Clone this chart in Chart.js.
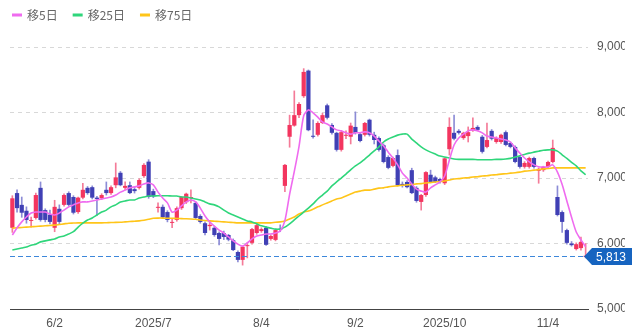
<!DOCTYPE html>
<html>
<head>
<meta charset="utf-8">
<script src="https://cdn.jsdelivr.net/npm/chart.js@4/dist/chart.umd.min.js"></script>
<style>
  html, body { margin: 0; padding: 0; background: #fff; }
  canvas { display: block; }
</style>
</head>
<body>
<canvas id="chart" width="642" height="335"></canvas>
<script>
// trading days shown on the chart
const dates = [
  '5/20','5/21','5/22','5/23','5/26','5/27','5/28','5/29','5/30',
  '6/2','6/3','6/4','6/5','6/6','6/9','6/10','6/11','6/12','6/13','6/16','6/17','6/18','6/19','6/20','6/23','6/24','6/25','6/26','6/27','6/30',
  '7/1','7/2','7/3','7/4','7/7','7/8','7/9','7/10','7/11','7/14','7/15','7/16','7/17','7/18','7/22','7/23','7/24','7/25','7/28','7/29','7/30','7/31','8/1',
  '8/4','8/5','8/6','8/7','8/8','8/12','8/13','8/14','8/15','8/18','8/19','8/20','8/21','8/22','8/25','8/26','8/27','8/28','8/29','9/1',
  '9/2','9/3','9/4','9/5','9/8','9/9','9/10','9/11','9/12','9/16','9/17','9/18','9/19','9/22','9/24','9/25','9/26','9/29','9/30',
  '10/1','10/2','10/3','10/6','10/7','10/8','10/9','10/10','10/14','10/15','10/16','10/17','10/20','10/21','10/22','10/23','10/24','10/27','10/28','10/29','10/30','10/31',
  '11/4','11/5','11/6','11/7','11/10','11/11','11/12','11/13','11/14'
]

const opens = [
  6240, 6770, 6590, 6500, 6345, 6390, 6850, 6510, 6440, 6240,
  6530, 6590, 6770, 6710, 6480, 6700, 6850, 6860, 6700, 6690,
  6820, 6770, 6890, 7080, 6850, 6890, 6830, 6850, 7030, 7250,
  6800, 6545, 6560, 6480, 6315, 6360, 6540, 6630, 6695, 6620,
  6420, 6310, 6265, 6240, 6160, 6160, 6130, 6050, 5870, 5750,
  5960, 6010, 6160, 6190, 6240, 6070, 6055, 6225, 6880, 7630,
  7800, 7960, 8250, 8640, 7645, 7660, 7840, 8110, 7810, 7690,
  7430, 7645, 7630, 7780, 7670, 7660, 7890, 7660, 7610, 7500,
  7320, 7185, 7350, 6910, 6940, 7120, 6850, 6635, 6740, 7050,
  7010, 6985, 6920, 7440, 7690, 7720, 7610, 7640, 7730, 7780,
  7630, 7475, 7720, 7550, 7550, 7700, 7535, 7475, 7320, 7170,
  7170, 7305, 7110, 7120, 7170, 7245, 6710, 6480, 6205, 6000,
  5915, 5930, 5795
]
const highs = [
  6730, 6820, 6710, 6560, 6405, 6770, 6940, 6530, 6510, 6660,
  6590, 6760, 6790, 6730, 6710, 6920, 6870, 6880, 6720, 6760,
  6940, 6880, 7230, 7100, 6940, 6940, 6860, 6990, 7220, 7280,
  6830, 6620, 6590, 6500, 6370, 6560, 6720, 6770, 6820, 6640,
  6440, 6330, 6345, 6260, 6180, 6190, 6140, 6070, 5890, 5960,
  6010, 6230, 6300, 6240, 6260, 6130, 6220, 6285, 7210, 7960,
  8330, 8150, 8670, 8650, 7890, 7860, 7990, 8130, 7830, 7700,
  7720, 7720, 7840, 8010, 7690, 7850, 7900, 7700, 7630, 7520,
  7340, 7320, 7430, 6940, 6960, 7150, 6870, 6750, 7100, 7120,
  7030, 7000, 7310, 7920, 7960, 7740, 7700, 7780, 7920, 7800,
  7650, 7840, 7740, 7630, 7670, 7720, 7550, 7490, 7340, 7250,
  7320, 7320, 7150, 7180, 7260, 7580, 6880, 6500, 6220, 6030,
  6010, 6100, 6000
]
const lows = [
  6170, 6480, 6400, 6310, 6250, 6370, 6340, 6330, 6300, 6180,
  6300, 6570, 6570, 6450, 6460, 6680, 6750, 6680, 6430, 6670,
  6740, 6750, 6850, 6880, 6820, 6760, 6770, 6830, 7010, 6690,
  6700, 6480, 6390, 6330, 6240, 6340, 6520, 6610, 6620, 6380,
  6310, 6130, 6205, 6110, 5980, 6060, 6040, 5890, 5720, 5670,
  5780, 5990, 6140, 6170, 5970, 6050, 6040, 6180, 6790, 7470,
  7790, 7920, 8230, 7720, 7610, 7640, 7830, 7900, 7670, 7410,
  7410, 7600, 7520, 7670, 7550, 7640, 7640, 7520, 7410, 7230,
  7140, 7170, 6880, 6860, 6850, 6760, 6630, 6510, 6720, 6930,
  6930, 6920, 6900, 7350, 7580, 7670, 7590, 7550, 7710, 7720,
  7380, 7460, 7580, 7530, 7530, 7490, 7460, 7230, 7150, 7150,
  7150, 7150, 6920, 7100, 7150, 7230, 6420, 6170, 5990, 5960,
  5900, 5900, 5780
]
const closes = [
  6690, 6540, 6470, 6360, 6360, 6740, 6360, 6360, 6330, 6560,
  6330, 6740, 6590, 6470, 6700, 6820, 6770, 6700, 6680, 6740,
  6770, 6860, 7010, 6890, 6880, 6770, 6800, 6970, 7200, 6710,
  6720, 6560, 6400, 6360, 6330, 6540, 6710, 6760, 6710, 6390,
  6330, 6160, 6285, 6130, 6070, 6100, 6060, 5900, 5750, 5950,
  5975, 6220, 6280, 6220, 5980, 6115, 6205, 6210, 7200, 7810,
  7960, 8130, 8620, 7730, 7630, 7840, 7960, 7920, 7690, 7430,
  7700, 7660, 7800, 7690, 7565, 7840, 7660, 7580, 7430, 7245,
  7155, 7305, 6890, 6880, 6860, 6770, 6650, 6740, 7090, 6940,
  6940, 6940, 7300, 7780, 7600, 7690, 7690, 7700, 7765, 7735,
  7400, 7580, 7600, 7610, 7660, 7505, 7475, 7245, 7170, 7230,
  7305, 7170, 7140, 7170, 7245, 7460, 6435, 6330, 6010, 5975,
  5990, 6025, 5813
]

// moving averages
const ma5 = [
  6130, 6240, 6330, 6405, 6465, 6480, 6480, 6480, 6450, 6435,
  6465, 6510, 6560, 6590, 6620, 6635, 6635, 6650, 6665, 6680,
  6695, 6710, 6740, 6785, 6815, 6850, 6865, 6880, 6910, 6925,
  6895, 6785, 6695, 6620, 6480, 6510, 6575, 6635, 6665, 6635,
  6540, 6420, 6330, 6265, 6205, 6160, 6100, 6040, 5990, 5960,
  6010, 6070, 6115, 6130, 6145, 6145, 6160, 6190, 6350, 6750,
  7100, 7480, 7950, 8040, 7995, 7930, 7855, 7825, 7780, 7735,
  7720, 7690, 7670, 7690, 7690, 7705, 7690, 7640, 7565, 7490,
  7395, 7305, 7200, 7075, 7000, 6910, 6830, 6800, 6785, 6850,
  6895, 6940, 7030, 7275, 7505, 7610, 7670, 7720, 7735, 7720,
  7690, 7640, 7625, 7610, 7595, 7580, 7550, 7460, 7380, 7305,
  7245, 7200, 7170, 7170, 7170, 7200, 7090, 6900, 6650, 6400,
  6175, 6055, 5950
]
const ma25 = [
  5900, 5915, 5930, 5945, 5975, 5990, 6025, 6040, 6055, 6070,
  6100, 6115, 6145, 6180, 6250, 6310, 6360, 6390, 6435, 6480,
  6510, 6560, 6590, 6635, 6650, 6665, 6665, 6695, 6710, 6725,
  6725, 6730, 6730, 6730, 6725, 6725, 6710, 6710, 6695, 6680,
  6665, 6635, 6605, 6590, 6560, 6510, 6465, 6435, 6405, 6375,
  6345, 6330, 6300, 6270, 6250, 6235, 6220, 6220, 6250, 6300,
  6360, 6420, 6480, 6540, 6605, 6680, 6740, 6800, 6880, 6940,
  7000, 7060, 7125, 7185, 7230, 7290, 7350, 7415, 7475, 7550,
  7595, 7625, 7655, 7670, 7670, 7595, 7535, 7475, 7430, 7395,
  7365, 7335, 7320, 7305, 7290, 7285, 7285, 7285, 7285, 7280,
  7280, 7280, 7280, 7285, 7285, 7290, 7300, 7320, 7340, 7360,
  7380, 7395, 7410, 7425, 7430, 7430, 7410, 7355, 7300, 7240,
  7185, 7110, 7050
]
const ma75 = [
  6235, 6240, 6245, 6250, 6255, 6260, 6265, 6270, 6275, 6280,
  6290, 6300, 6310, 6312, 6315, 6315, 6315, 6315, 6315, 6315,
  6318, 6320, 6322, 6325, 6330, 6335, 6340, 6345, 6355, 6370,
  6385, 6388, 6388, 6385, 6385, 6382, 6380, 6378, 6375, 6370,
  6360, 6352, 6345, 6340, 6335, 6330, 6325, 6320, 6315, 6315,
  6315, 6315, 6315, 6315, 6315, 6315, 6325, 6330, 6345, 6375,
  6405, 6450, 6480, 6495, 6525, 6560, 6590, 6620, 6650, 6680,
  6695, 6725, 6755, 6785, 6800, 6815, 6815, 6830, 6845, 6850,
  6865, 6875, 6880, 6890, 6895, 6900, 6910, 6915, 6925, 6930,
  6940, 6945, 6955, 6970, 6985, 6990, 7000, 7005, 7015, 7020,
  7030, 7035, 7045, 7050, 7060, 7065, 7075, 7080, 7090, 7105,
  7110, 7120, 7125, 7140, 7145, 7155, 7155, 7155, 7155, 7155,
  7155, 7155, 7155
]

// axis labels
const tickDates = ['6/2', '7/1', '8/4', '9/2', '10/1', '11/4']
const tickTexts = ['6/2', '2025/7', '8/4', '9/2', '2025/10', '11/4']
const yTicks = [5000, 6000, 7000, 8000, 9000]

const UP = '#f3355f'
const DOWN = '#4040b5'
const UP_WICK = '#f47b98'
const DOWN_WICK = '#8c8cd6'
const FONT = "'Liberation Sans', 'Noto Sans CJK JP', sans-serif"

function isUp(i){
    return closes[i] >= opens[i]
}

// legend row for the three averages
const maLegend = {
    id: 'maLegend',
    afterDraw(chart){
        const ctx = chart.ctx
        let x = 12
        const y = 15
        ctx.save()
        ctx.font = "12px 'Noto Sans CJK JP', sans-serif"
        ctx.textBaseline = 'middle'
        chart.data.datasets.slice(0, 3).forEach(ds => {
            ctx.fillStyle = ds.borderColor
            ctx.fillRect(x, y - 1.5, 10, 3)
            x += 15
            ctx.fillStyle = '#666'
            ctx.fillText(ds.label, x, y)
            x += ctx.measureText(ds.label).width + 15
        })
        ctx.restore()
    }
}

// dashed line + tag for the last close
const lastPrice = {
    id: 'lastPrice',
    afterDraw(chart){
        const {ctx, chartArea, scales} = chart
        const last = closes[closes.length - 1]
        const y = Math.round(scales.y.getPixelForValue(last)) + 0.5
        ctx.save()
        ctx.strokeStyle = '#3d87da'
        ctx.lineWidth = 1
        ctx.setLineDash([5, 3])
        ctx.beginPath()
        ctx.moveTo(chartArea.left, y)
        ctx.lineTo(chartArea.right, y)
        ctx.stroke()
        ctx.setLineDash([])

        let x0 = chartArea.right - 4
        ctx.fillStyle = '#1664c0'
        ctx.beginPath()
        ctx.moveTo(x0, y)
        ctx.lineTo(x0 + 8, y - 8.5)
        ctx.lineTo(x0 + 48, y - 8.5)
        ctx.lineTo(x0 + 48, y + 8.5)
        ctx.lineTo(x0 + 8, y + 8.5)
        ctx.closePath()
        ctx.fill()
        ctx.fillStyle = '#fff'
        ctx.font = '12px ' + FONT
        ctx.textBaseline = 'middle'
        ctx.fillText(last.toLocaleString('en-US'), x0 + 12, y + 1)
        ctx.restore()
    }
}

const data = {
    labels: dates,
    datasets: [
        { type: 'line', label: '移5日', data: ma5, borderColor: '#ef6bef', backgroundColor: '#ef6bef',
          borderWidth: 1.6, pointRadius: 0, tension: 0.25, order: 0 },
        { type: 'line', label: '移25日', data: ma25, borderColor: '#2fd67b', backgroundColor: '#2fd67b',
          borderWidth: 1.6, pointRadius: 0, tension: 0.25, order: 0 },
        { type: 'line', label: '移75日', data: ma75, borderColor: '#ffc519', backgroundColor: '#ffc519',
          borderWidth: 1.6, pointRadius: 0, tension: 0.25, order: 0 },
        { type: 'bar', data: dates.map((d, i) => [opens[i], closes[i]]),
          backgroundColor: c => isUp(c.dataIndex) ? UP : DOWN,
          barPercentage: 0.9, categoryPercentage: 1, grouped: false, order: 2 },
        { type: 'bar', data: dates.map((d, i) => [lows[i], highs[i]]),
          backgroundColor: c => isUp(c.dataIndex) ? UP_WICK : DOWN_WICK,
          barThickness: 1, grouped: false, order: 3 }
    ]
}

const config = {
    type: 'bar',
    data: data,
    plugins: [maLegend, lastPrice],
    options: {
        responsive: false,
        animation: false,
        layout: { padding: { left: 10, right: 17, top: 30, bottom: 0 } },
        plugins: {
            tooltip: { enabled: false },
            legend: { display: false }
        },
        scales: {
            x: {
                offset: true,
                grid: { display: false, drawTicks: false },
                border: { display: true, color: '#444', width: 1 },
                afterFit: s => { s.height = 26 },
                ticks: {
                    autoSkip: false,
                    maxRotation: 0,
                    padding: 7,
                    color: '#555',
                    font: { size: 12, family: FONT },
                    callback: (v, i) => {
                        const k = tickDates.indexOf(dates[i])
                        return k >= 0 ? tickTexts[k] : ''
                    }
                }
            },
            y: {
                position: 'right',
                min: 5000,
                max: 9260,
                afterBuildTicks: s => { s.ticks = yTicks.map(v => ({ value: v })) },
                afterFit: s => { s.width = 37 },
                grid: { color: '#d8d8d8', drawTicks: false },
                border: { display: false, dash: [4, 4] },
                ticks: {
                    padding: 9,
                    color: '#555',
                    font: { size: 12, family: FONT },
                    callback: v => v.toLocaleString('en-US')
                }
            }
        }
    }
}

let ctx = document.getElementById('chart').getContext('2d')

new Chart(ctx, config)
</script>
</body>
</html>
